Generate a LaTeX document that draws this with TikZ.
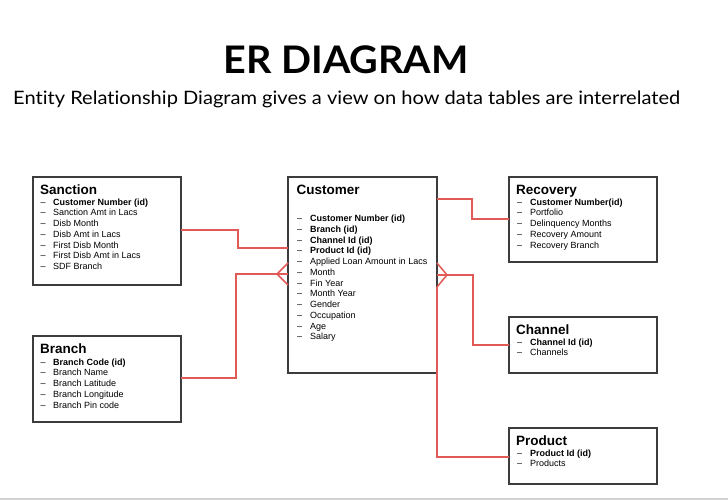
\documentclass[tikz,border=0pt]{standalone}
\usepackage{fontspec}
\usepackage{graphicx}
\setmainfont{Liberation Sans}
\newfontfamily\headfont[Ligatures=NoCommon]{Lato}
\usetikzlibrary{positioning}
\definecolor{linkred}{RGB}{226,90,86}
\definecolor{boxgray}{RGB}{60,60,60}
\begin{document}
\begin{tikzpicture}[x=1pt, y=-1pt,
  entity/.style = {draw=boxgray, line width=1.1pt, rectangle, inner sep=0pt, outer sep=0pt, minimum width=148pt},
  etitle/.style = {font=\fontsize{13.5}{16}\selectfont\bfseries, inner sep=0pt, anchor=base west},
  fields/.style = {font=\fontsize{9}{10.75}\selectfont, inner sep=0pt, anchor=base west},
  link/.style = {draw=linkred, line width=1.5pt}]
\useasboundingbox (0,0) rectangle (728,500);

% heading
\node[font=\headfont\fontsize{38}{44}\selectfont\bfseries, inner sep=0pt, anchor=base] (head) at (346,74) {\scalebox{1.04}[1]{ER DIAGRAM}};
\node[font=\headfont\fontsize{18.5}{22}\selectfont, inner sep=0pt, anchor=base west] (sub) at (13,104.5) {\scalebox{1.085}[1]{Entity Relationship Diagram gives a view on how data tables are interrelated}};

% entities
\node[entity, minimum height=108pt, anchor=north west] (sanction) at (33,177) {};
\node[entity, minimum height=86pt, below=51pt of sanction.south west, anchor=north west] (branch) {};
\node[entity, minimum width=149pt, minimum height=196pt, right=107pt of sanction.north east, anchor=north west] (customer) {};
\node[entity, minimum height=85pt, right=72pt of customer.north east, anchor=north west] (recovery) {};
\node[entity, minimum height=56pt, below=55pt of recovery.south west, anchor=north west] (channel) {};
\node[entity, minimum height=56pt, below=55pt of channel.south west, anchor=north west] (product) {};

% titles
\node[etitle] at ([xshift=7pt,yshift=-17pt]sanction.north west) {Sanction};
\node[etitle] at ([xshift=7pt,yshift=-17pt]branch.north west) {Branch};
\node[etitle] at ([xshift=8.5pt,yshift=-17pt]customer.north west) {Customer};
\node[etitle] at ([xshift=7pt,yshift=-17pt]recovery.north west) {Recovery};
\node[etitle] at ([xshift=7pt,yshift=-17pt]channel.north west) {Channel};
\node[etitle] at ([xshift=7pt,yshift=-17pt]product.north west) {Product};

% fields
\node[fields] at ([xshift=7.5pt,yshift=-28pt]sanction.north west) {\begin{tabular}[t]{@{}l@{\hspace{7.5pt}}l@{}}
– & \textbf{Customer Number (id)}\\
– & Sanction Amt in Lacs\\
– & Disb Month\\
– & Disb Amt in Lacs\\
– & First Disb Month\\
– & First Disb Amt in Lacs\\
– & SDF Branch
\end{tabular}};
\node[fields] at ([xshift=7.5pt,yshift=-29pt]branch.north west) {\begin{tabular}[t]{@{}l@{\hspace{7.5pt}}l@{}}
– & \textbf{Branch Code (id)}\\
– & Branch Name\\
– & Branch Latitude\\
– & Branch Longitude\\
– & Branch Pin code
\end{tabular}};
\node[fields] at ([xshift=9pt,yshift=-44.5pt]customer.north west) {\begin{tabular}[t]{@{}l@{\hspace{8pt}}l@{}}
– & \textbf{Customer Number (id)}\\
– & \textbf{Branch (id)}\\
– & \textbf{Channel Id (id)}\\
– & \textbf{Product Id (id)}\\
– & Applied Loan Amount in Lacs\\
– & Month\\
– & Fin Year\\
– & Month Year\\
– & Gender\\
– & Occupation\\
– & Age\\
– & Salary
\end{tabular}};
\node[fields] at ([xshift=8pt,yshift=-28pt]recovery.north west) {\begin{tabular}[t]{@{}l@{\hspace{8pt}}l@{}}
– & \textbf{Customer Number(id)}\\
– & Portfolio\\
– & Delinquency Months\\
– & Recovery Amount\\
– & Recovery Branch
\end{tabular}};
\node[fields] at ([xshift=8pt,yshift=-28pt]channel.north west) {\begin{tabular}[t]{@{}l@{\hspace{8pt}}l@{}}
– & \textbf{Channel Id (id)}\\
– & Channels
\end{tabular}};
\node[fields] at ([xshift=8pt,yshift=-28pt]product.north west) {\begin{tabular}[t]{@{}l@{\hspace{8pt}}l@{}}
– & \textbf{Product Id (id)}\\
– & Products
\end{tabular}};

% relations
\draw[link] ([yshift=-53pt]sanction.north east) -| ([xshift=-50pt,yshift=-71pt]customer.north west) -- ([yshift=-71pt]customer.north west);
\draw[link] ([yshift=-42pt]branch.north east) -| ([xshift=-52pt,yshift=-97pt]customer.north west) -- ([yshift=-97pt]customer.north west);
\draw[link] ([yshift=-86pt]customer.north west) -- ([xshift=-11pt,yshift=-97pt]customer.north west) -- ([yshift=-108pt]customer.north west);
\draw[link] ([yshift=-22pt]customer.north east) -| ([xshift=-37pt,yshift=-42pt]recovery.north west) -- ([yshift=-42pt]recovery.north west);
\draw[link] ([yshift=-98pt]customer.north east) -| ([xshift=-36pt,yshift=-28pt]channel.north west) -- ([yshift=-28pt]channel.north west);
\draw[link] ([yshift=-86pt]customer.north east) -- ([xshift=10pt,yshift=-98pt]customer.north east) -- ([yshift=-110pt]customer.north east);
\draw[link] ([yshift=-110pt]customer.north east) |- ([yshift=-29pt]product.north west);

\draw[gray!35, line width=2pt] (0,499) -- (728,499);
\end{tikzpicture}
\end{document}
